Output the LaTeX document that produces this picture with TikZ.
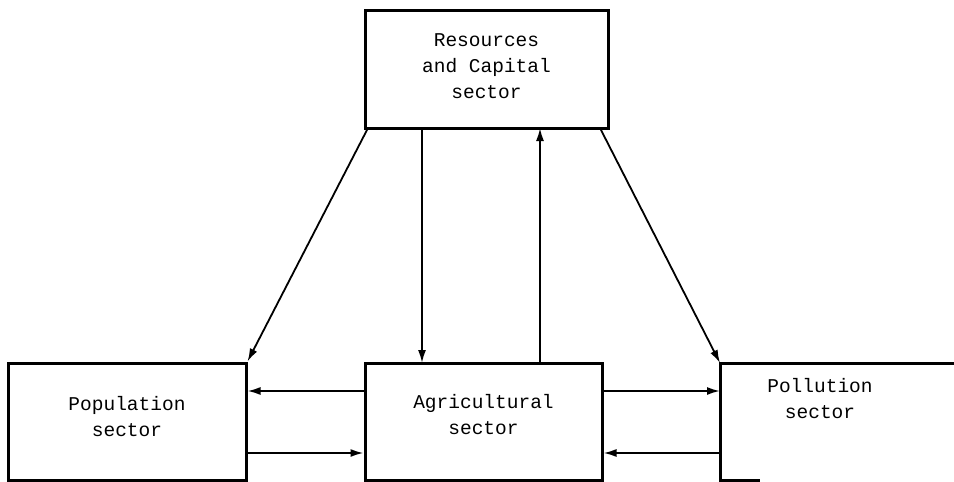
\documentclass[tikz,border=0pt]{standalone}
\usepackage{fontspec}
\setmonofont{Liberation Mono}
\usetikzlibrary{arrows.meta}
\begin{document}
\begin{tikzpicture}[x=1pt,y=-1pt,
  lbl/.style={font=\ttfamily\fontsize{19.5}{26}\selectfont,align=center},
  box/.style={draw,line width=3pt,inner sep=0pt,minimum height=117pt},
  conn/.style={line width=1.8pt,-{Latex[length=13pt,width=8pt]}}]
\useasboundingbox (0,0) rectangle (954,482);
\node[box,minimum width=243pt,minimum height=118pt] (res) at (486.5,69) {};
\node[box,minimum width=238pt] (pop) at (127,421.5) {};
\node[box,minimum width=237pt] (agr) at (483.5,421.5) {};
\node[lbl] (rest) at (486.5,66) {Resources\\and Capital\\sector};
\node[lbl] (popt) at (127,417) {Population\\sector};
\node[lbl] (agrt) at (483.5,415) {Agricultural\\sector};
\coordinate (pl) at (720,363);
\coordinate (pb) at (720,480);
\draw[line width=3pt] (954,363) -- (pl) -- (pb) -- (760,480);
\node[lbl] (pol) at (820,399) {Pollution\\sector};
\coordinate (rbl) at (368,128);
\coordinate (rbr) at (600,128);
\draw[conn] (rbl) -- (pop.north east);
\draw[conn] (rbr) -- (pl);
\draw[conn] (422,128) -- (422,363);
\draw[conn] (540,363) -- (540,128);
\draw[conn] (agr.west |- 0,391) -- (pop.east |- 0,391);
\draw[conn] (pop.east |- 0,453) -- (agr.west |- 0,453);
\draw[conn] (agr.east |- 0,391) -- (720,391);
\draw[conn] (720,453) -- (agr.east |- 0,453);
\end{tikzpicture}
\end{document}
